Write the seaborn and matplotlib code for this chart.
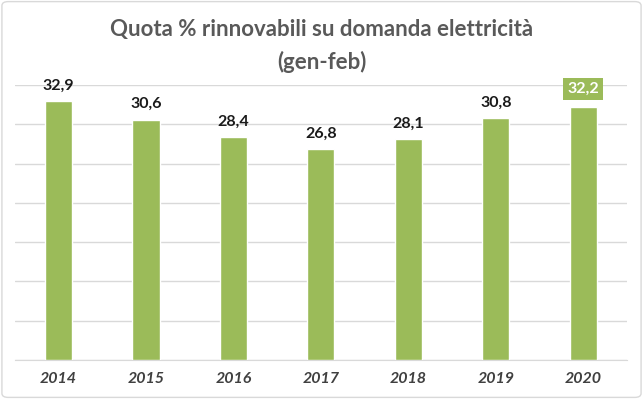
import pandas as pd
import matplotlib.pyplot as plt
import seaborn as sns
from matplotlib.patches import FancyBboxPatch

# Data
years = ["2014", "2015", "2016", "2017", "2018", "2019", "2020"]
quota = [32.9, 30.6, 28.4, 26.8, 28.1, 30.8, 32.2]
labels = ["32,9", "30,6", "28,4", "26,8", "28,1", "30,8", "32,2"]

green = "#9BBB59"
df = pd.DataFrame({"anno": years, "quota": quota})

sns.set_style("white")
plt.rcParams["font.family"] = ["Lato", "DejaVu Sans"]

fig = plt.figure(figsize=(6.43, 3.99), dpi=100)
ax = fig.add_axes([0.023, 0.098, 0.952, 0.689])

sns.barplot(data=df, x="anno", y="quota", color=green, width=0.31,
            saturation=1, ax=ax, zorder=3)

ax.set_ylim(0, 35)
ax.set_yticks(range(0, 36, 5))
ax.set_yticklabels([])
ax.tick_params(axis="y", length=0)
ax.tick_params(axis="x", length=0, pad=9)
ax.yaxis.grid(True, color="#D9D9D9", linewidth=1, zorder=0)
sns.despine(ax=ax, left=True, top=True, right=True)
ax.spines["bottom"].set_color("#D9D9D9")
ax.set_xlabel("")
ax.set_ylabel("")
for t in ax.get_xticklabels():
    t.set_fontweight("bold")
    t.set_fontstyle("italic")
    t.set_fontsize(11.5)
    t.set_color("#404040")

# value labels
for i, (v, lab) in enumerate(zip(quota, labels)):
    if i == len(quota) - 1:
        ax.annotate(lab, (i, v), xytext=(0, 8), textcoords="offset points",
                    ha="center", va="bottom", fontsize=11.5, fontweight="bold",
                    color="white",
                    bbox=dict(boxstyle="square,pad=0.25", fc=green, ec="none"))
    else:
        ax.annotate(lab, (i, v), xytext=(0, 6), textcoords="offset points",
                    ha="center", va="bottom", fontsize=11.5, fontweight="bold",
                    color="#1a1a1a")

fig.text(0.5, 0.925, "Quota % rinnovabili su domanda elettricità",
         ha="center", va="center", fontsize=16, fontweight="bold", color="#595959")
fig.text(0.5, 0.845, "(gen-feb)", ha="center", va="center",
         fontsize=16, fontweight="bold", color="#595959")

# outer frame
fig.patches.append(FancyBboxPatch((0.003, 0.004), 0.994, 0.992,
                                  boxstyle="round,pad=0,rounding_size=0.01",
                                  transform=fig.transFigure, fill=False,
                                  ec="#D9D9D9", lw=1))

plt.savefig("out.png", dpi=100)
